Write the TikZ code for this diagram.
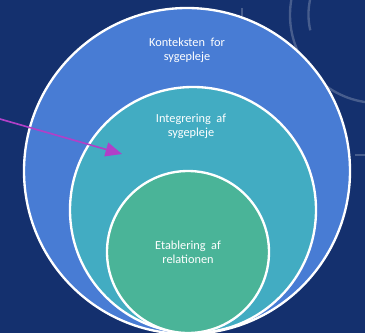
\documentclass[tikz,border=0pt]{standalone}
\usepackage{fontspec}
\setmainfont{Carlito}
\usepackage{xcolor}
\usetikzlibrary{arrows.meta,positioning}

\definecolor{navybg}{RGB}{20,48,110}
\definecolor{outerblue}{RGB}{72,124,212}
\definecolor{midteal}{RGB}{66,172,194}
\definecolor{innergreen}{RGB}{74,180,152}
\definecolor{arrowpurple}{RGB}{176,64,200}

\begin{document}
\begin{tikzpicture}[
    x=0.03cm, y=-0.03cm,
    ring/.style={draw=white, line width=2pt},
    label/.style={text=white, align=center, font=\fontsize{10.5}{12}\selectfont},
    deco/.style={draw=white, draw opacity=0.22, line width=2pt},
    pointer/.style={-{Triangle[length=14pt,width=12pt]}, draw=arrowpurple, fill=arrowpurple, line width=1.4pt}
]

\clip (0,0) rectangle (365,333);
\fill[navybg] (0,0) rectangle (365,333);

% faint background arcs
\draw[deco] (378,15) circle (88);
\draw[deco] (310,0) arc (192:167:70);
\draw[deco] (242,8) -- (242,16);
\draw[deco] (355,155) -- (365,155);

% nested circles
\draw[ring, fill=outerblue] (187,171) circle (163);
\draw[ring, fill=midteal] (193,210) circle (123);
\draw[ring, fill=innergreen] (188,252) circle (81);

\node[label] (kontekst) at (187,50) {Konteksten~~for\\sygepleje};
\node[label] (integr) at (191,126) {Integrering~~af\\sygepleje};
\node[label] (etabl) at (188,252) {Etablering~~af\\relationen};

\coordinate (start) at (0,119);
\coordinate (tip) at (122,154);
\draw[pointer] (start) -- (tip);

\end{tikzpicture}
\end{document}
